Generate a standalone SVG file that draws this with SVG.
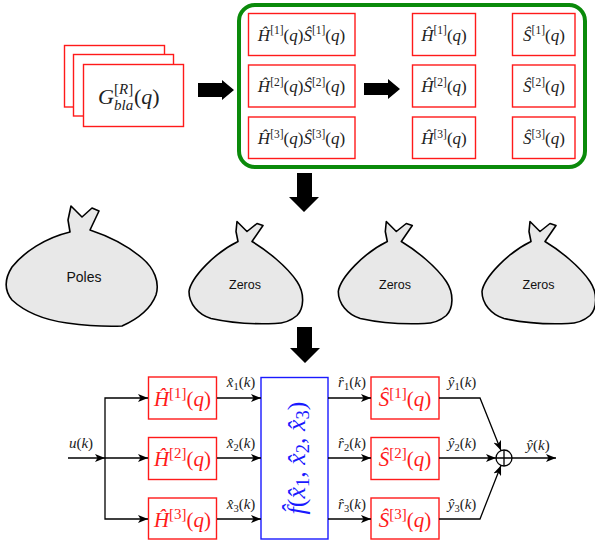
<svg xmlns="http://www.w3.org/2000/svg" width="595" height="540" viewBox="0 0 595 540">
  <style>
    .m { font-family: "Liberation Serif", "DejaVu Serif", serif; fill: #222; }
    .i { font-style: italic; }
    .box { fill: #fff; stroke: #ff1a1a; stroke-width: 1.4; }
    .red { fill: #ff1a1a; }
    .blue { fill: #1a1aff; }
    .bag { fill: #e8e8e8; stroke: #000; stroke-width: 1.6; stroke-linejoin: round; }
    .bagtxt { font-family: "Liberation Sans", Arial, sans-serif; fill: #111; text-anchor: middle; }
    .wire { fill: none; stroke: #000; stroke-width: 1.3; }
    .big { fill: #000; }
  </style>
  <defs>
    <marker id="ah" markerUnits="userSpaceOnUse" markerWidth="10" markerHeight="8" refX="10" refY="4" orient="auto">
      <path d="M0,0 L10,4 L0,8 L2.5,4 Z" fill="#000"/>
    </marker>
    <path id="zeroBag" d="M49,20 L47,10 L48,0 L58,10 L68,2 L74,4 L63,20 C78,29 98,45 108,60 C116,72 115,87 108,94 C101,100 94,102 86,102 C62,103 40,101 22,97 C9,93 0,82 0,70 C2,56 26,31 49,20 Z"/>
  </defs>

  <!-- stacked BLA estimates -->
  <g id="bla">
    <rect class="box" x="64.5" y="45.5" width="100" height="61.5"/>
    <rect class="box" x="73.5" y="54.5" width="100" height="61.5"/>
    <rect class="box" x="83.5" y="64.5" width="100" height="62"/>
    <text class="m" x="98" y="104" font-size="22"><tspan class="i">G</tspan></text>
    <text class="m" x="114" y="94" font-size="15">[<tspan class="i">R</tspan>]</text>
    <text class="m i" x="114" y="110" font-size="15">bla</text>
    <text class="m" x="134" y="104" font-size="22">(<tspan class="i">q</tspan>)</text>
  </g>

  <!-- big arrows between stages -->
  <g id="stageArrows">
    <polygon class="big" points="198,83 222,83 222,80 234,90 222,100 222,97 198,97"/>
    <polygon class="big" points="364,83 388,83 388,79 400,89 388,99 388,95 364,95"/>
    <polygon class="big" points="297,173 312,173 312,197 319,197 304,212 289,197 297,197"/>
    <polygon class="big" points="297,327 312,327 312,348 320,348 305,363 290,348 297,348"/>
  </g>

  <!-- factorisation panel -->
  <g id="split">
    <rect x="239" y="5" width="346" height="162" rx="16" fill="none" stroke="#0a8a0a" stroke-width="4"/>

    <g id="hs1">
      <rect class="box" x="248.5" y="13.5" width="106.5" height="42"/>
      <text class="m" x="301.5" y="40.5" text-anchor="middle" font-size="17"><tspan class="i">Ĥ</tspan><tspan dy="-6.5" font-size="11.5">[1]</tspan><tspan dy="6.5">(</tspan><tspan class="i">q</tspan>)<tspan class="i">Ŝ</tspan><tspan dy="-6.5" font-size="11.5">[1]</tspan><tspan dy="6.5">(</tspan><tspan class="i">q</tspan>)</text>
    </g>
    <g id="hs2">
      <rect class="box" x="248.5" y="65" width="106.5" height="42"/>
      <text class="m" x="301.5" y="92" text-anchor="middle" font-size="17"><tspan class="i">Ĥ</tspan><tspan dy="-6.5" font-size="11.5">[2]</tspan><tspan dy="6.5">(</tspan><tspan class="i">q</tspan>)<tspan class="i">Ŝ</tspan><tspan dy="-6.5" font-size="11.5">[2]</tspan><tspan dy="6.5">(</tspan><tspan class="i">q</tspan>)</text>
    </g>
    <g id="hs3">
      <rect class="box" x="248.5" y="117" width="106.5" height="41.5"/>
      <text class="m" x="301.5" y="144" text-anchor="middle" font-size="17"><tspan class="i">Ĥ</tspan><tspan dy="-6.5" font-size="11.5">[3]</tspan><tspan dy="6.5">(</tspan><tspan class="i">q</tspan>)<tspan class="i">Ŝ</tspan><tspan dy="-6.5" font-size="11.5">[3]</tspan><tspan dy="6.5">(</tspan><tspan class="i">q</tspan>)</text>
    </g>

    <g id="h1">
      <rect class="box" x="412.5" y="13.5" width="63" height="42"/>
      <text class="m" x="444" y="40.5" text-anchor="middle" font-size="17"><tspan class="i">Ĥ</tspan><tspan dy="-6.5" font-size="11.5">[1]</tspan><tspan dy="6.5">(</tspan><tspan class="i">q</tspan>)</text>
    </g>
    <g id="h2">
      <rect class="box" x="412.5" y="65" width="63" height="42"/>
      <text class="m" x="444" y="92" text-anchor="middle" font-size="17"><tspan class="i">Ĥ</tspan><tspan dy="-6.5" font-size="11.5">[2]</tspan><tspan dy="6.5">(</tspan><tspan class="i">q</tspan>)</text>
    </g>
    <g id="h3">
      <rect class="box" x="412.5" y="117" width="63" height="41.5"/>
      <text class="m" x="444" y="144" text-anchor="middle" font-size="17"><tspan class="i">Ĥ</tspan><tspan dy="-6.5" font-size="11.5">[3]</tspan><tspan dy="6.5">(</tspan><tspan class="i">q</tspan>)</text>
    </g>

    <g id="s1">
      <rect class="box" x="512.5" y="13.5" width="62.5" height="42"/>
      <text class="m" x="544" y="40.5" text-anchor="middle" font-size="17"><tspan class="i">Ŝ</tspan><tspan dy="-6.5" font-size="11.5">[1]</tspan><tspan dy="6.5">(</tspan><tspan class="i">q</tspan>)</text>
    </g>
    <g id="s2">
      <rect class="box" x="512.5" y="65" width="62.5" height="42"/>
      <text class="m" x="544" y="92" text-anchor="middle" font-size="17"><tspan class="i">Ŝ</tspan><tspan dy="-6.5" font-size="11.5">[2]</tspan><tspan dy="6.5">(</tspan><tspan class="i">q</tspan>)</text>
    </g>
    <g id="s3">
      <rect class="box" x="512.5" y="117" width="62.5" height="41.5"/>
      <text class="m" x="544" y="144" text-anchor="middle" font-size="17"><tspan class="i">Ŝ</tspan><tspan dy="-6.5" font-size="11.5">[3]</tspan><tspan dy="6.5">(</tspan><tspan class="i">q</tspan>)</text>
    </g>
  </g>

  <!-- pole / zero pools -->
  <g id="poles">
    <path class="bag" d="M70,232 L68,220 L71,206 L82,217 L92,208 L99,211 L90,230 C108,236 128,246 142,258 C154,268 160,282 156,295 C151,308 140,318 122,326 C100,327 82,325 67,323 C45,320 25,312 12,300 C4,290 5,278 12,267 C24,252 45,238 70,232 Z"/>
    <text class="bagtxt" x="84" y="282" font-size="14">Poles</text>
  </g>
  <g id="zeros1">
    <use href="#zeroBag" class="bag" transform="translate(189,221.5)"/>
    <text class="bagtxt" x="245" y="288.5" font-size="12.5">Zeros</text>
  </g>
  <g id="zeros2">
    <use href="#zeroBag" class="bag" transform="translate(338.3,221.5)"/>
    <text class="bagtxt" x="395" y="288.5" font-size="12.5">Zeros</text>
  </g>
  <g id="zeros3">
    <use href="#zeroBag" class="bag" transform="translate(482,221.5)"/>
    <text class="bagtxt" x="538.5" y="288.5" font-size="12.5">Zeros</text>
  </g>

  <!-- parallel Wiener-Hammerstein structure -->
  <g id="H1">
    <rect class="box" x="148.5" y="377" width="68" height="42"/>
    <text class="m red" x="182.5" y="405.5" text-anchor="middle" font-size="21"><tspan class="i">Ĥ</tspan><tspan dy="-8" font-size="15">[1]</tspan><tspan dy="8">(</tspan><tspan class="i">q</tspan>)</text>
  </g>
  <g id="H2">
    <rect class="box" x="148.5" y="437.5" width="68" height="42"/>
    <text class="m red" x="182.5" y="466" text-anchor="middle" font-size="21"><tspan class="i">Ĥ</tspan><tspan dy="-8" font-size="15">[2]</tspan><tspan dy="8">(</tspan><tspan class="i">q</tspan>)</text>
  </g>
  <g id="H3">
    <rect class="box" x="148.5" y="498" width="68" height="41"/>
    <text class="m red" x="182.5" y="527" text-anchor="middle" font-size="21"><tspan class="i">Ĥ</tspan><tspan dy="-8" font-size="15">[3]</tspan><tspan dy="8">(</tspan><tspan class="i">q</tspan>)</text>
  </g>
  <g id="F">
    <rect x="261" y="377.5" width="67" height="161.5" fill="#fff" stroke="#1a1aff" stroke-width="1.4"/>
    <text class="m blue" transform="translate(305,458) rotate(-90)" text-anchor="middle" font-size="26"><tspan class="i">f&#x302;</tspan>(<tspan class="i">x&#x302;</tspan><tspan dy="4" font-size="18.5">1</tspan><tspan dy="-4">, </tspan><tspan class="i">x&#x302;</tspan><tspan dy="4" font-size="18.5">2</tspan><tspan dy="-4">, </tspan><tspan class="i">x&#x302;</tspan><tspan dy="4" font-size="18.5">3</tspan><tspan dy="-4">)</tspan></text>
  </g>
  <g id="S1">
    <rect class="box" x="371" y="377" width="68" height="42"/>
    <text class="m red" x="405" y="405.5" text-anchor="middle" font-size="21"><tspan class="i">Ŝ</tspan><tspan dy="-8" font-size="15">[1]</tspan><tspan dy="8">(</tspan><tspan class="i">q</tspan>)</text>
  </g>
  <g id="S2">
    <rect class="box" x="371" y="437.5" width="68" height="42"/>
    <text class="m red" x="405" y="466" text-anchor="middle" font-size="21"><tspan class="i">Ŝ</tspan><tspan dy="-8" font-size="15">[2]</tspan><tspan dy="8">(</tspan><tspan class="i">q</tspan>)</text>
  </g>
  <g id="S3">
    <rect class="box" x="371" y="498" width="68" height="41"/>
    <text class="m red" x="405" y="527" text-anchor="middle" font-size="21"><tspan class="i">Ŝ</tspan><tspan dy="-8" font-size="15">[3]</tspan><tspan dy="8">(</tspan><tspan class="i">q</tspan>)</text>
  </g>
  <g id="sum">
    <circle cx="504" cy="458" r="8" fill="#fff" stroke="#000" stroke-width="1.3"/>
    <path class="wire" d="M496,458 H512 M504,450 V466"/>
  </g>

  <g id="connectors">
    <path class="wire" d="M68,458 H105" marker-end="url(#ah)"/>
    <path class="wire" d="M105,458 V398 H148" marker-end="url(#ah)"/>
    <path class="wire" d="M105,458 H148" marker-end="url(#ah)"/>
    <path class="wire" d="M105,458 V519 H148" marker-end="url(#ah)"/>
    <path class="wire" d="M217,398 H261" marker-end="url(#ah)"/>
    <path class="wire" d="M217,458 H261" marker-end="url(#ah)"/>
    <path class="wire" d="M217,519 H261" marker-end="url(#ah)"/>
    <path class="wire" d="M328,398 H371" marker-end="url(#ah)"/>
    <path class="wire" d="M328,458 H371" marker-end="url(#ah)"/>
    <path class="wire" d="M328,519 H371" marker-end="url(#ah)"/>
    <path class="wire" d="M439,398 H480 L501,450.6" marker-end="url(#ah)"/>
    <path class="wire" d="M439,458 H496" marker-end="url(#ah)"/>
    <path class="wire" d="M439,519 H480 L501,465.4" marker-end="url(#ah)"/>
    <path class="wire" d="M512,458 H556" marker-end="url(#ah)"/>
  </g>

  <!-- signal labels -->
  <g id="labels" class="m" font-size="15" text-anchor="middle">
    <text x="81" y="448"><tspan class="i">u</tspan>(<tspan class="i">k</tspan>)</text>
    <text x="241" y="387"><tspan class="i">x&#x302;</tspan><tspan dy="3" font-size="10.5">1</tspan><tspan dy="-3">(</tspan><tspan class="i">k</tspan>)</text>
    <text x="241" y="448"><tspan class="i">x&#x302;</tspan><tspan dy="3" font-size="10.5">2</tspan><tspan dy="-3">(</tspan><tspan class="i">k</tspan>)</text>
    <text x="241" y="509"><tspan class="i">x&#x302;</tspan><tspan dy="3" font-size="10.5">3</tspan><tspan dy="-3">(</tspan><tspan class="i">k</tspan>)</text>
    <text x="352" y="387"><tspan class="i">r&#x302;</tspan><tspan dy="3" font-size="10.5">1</tspan><tspan dy="-3">(</tspan><tspan class="i">k</tspan>)</text>
    <text x="352" y="448"><tspan class="i">r&#x302;</tspan><tspan dy="3" font-size="10.5">2</tspan><tspan dy="-3">(</tspan><tspan class="i">k</tspan>)</text>
    <text x="352" y="509"><tspan class="i">r&#x302;</tspan><tspan dy="3" font-size="10.5">3</tspan><tspan dy="-3">(</tspan><tspan class="i">k</tspan>)</text>
    <text x="462" y="387"><tspan class="i">ŷ</tspan><tspan dy="3" font-size="10.5">1</tspan><tspan dy="-3">(</tspan><tspan class="i">k</tspan>)</text>
    <text x="462" y="448"><tspan class="i">ŷ</tspan><tspan dy="3" font-size="10.5">2</tspan><tspan dy="-3">(</tspan><tspan class="i">k</tspan>)</text>
    <text x="462" y="509"><tspan class="i">ŷ</tspan><tspan dy="3" font-size="10.5">3</tspan><tspan dy="-3">(</tspan><tspan class="i">k</tspan>)</text>
    <text x="538" y="450"><tspan class="i">ŷ</tspan>(<tspan class="i">k</tspan>)</text>
  </g>
</svg>
